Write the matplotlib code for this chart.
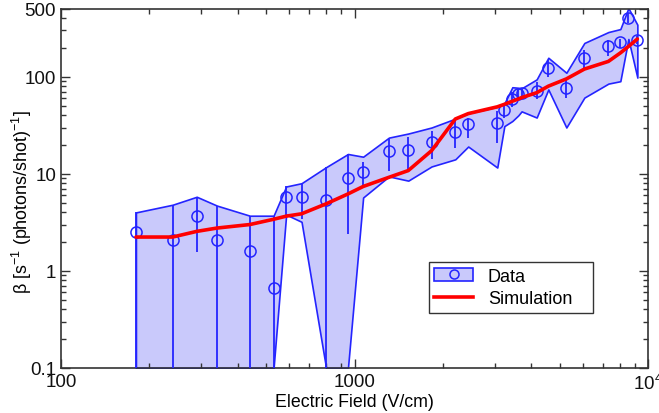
import matplotlib
matplotlib.use('Agg')
import matplotlib.pyplot as plt
from matplotlib.patches import Patch
from matplotlib.lines import Line2D
from matplotlib.ticker import FixedLocator, FixedFormatter, LogLocator, NullFormatter

plt.rcParams.update({
    'font.family': ['Liberation Sans', 'DejaVu Sans'],
    'mathtext.default': 'regular',
    'font.size': 12,
})

# electric field (V/cm)
field = [180, 240, 290, 340, 440, 530, 585, 660, 800, 950, 1070, 1310, 1525,
         1830, 2205, 2440, 3065, 3240, 3450, 3615, 3710, 4175, 4575, 5270,
         6070, 7330, 8050, 8575, 9200]
# measured beta and its band / error bar limits
beta = [2.5, 2.1, 3.7, 2.1, 1.6, 0.67, 5.7, 5.7, 5.4, 9.0, 10.5, 17.0, 17.5,
        21.5, 27, 32.4, 33, 45, 58.5, 66, 67.5, 72, 124, 77,
        157, 206, 226, 403, 241]
band_hi = [4.0, 4.8, 5.8, 4.7, 3.7, 3.7, 7.4, 8.0, 11.7, 16, 15, 23.6, 26,
           30, 37, 42, 49, 53, 78, 77, 76, 94, 157, 110,
           223, 289, 310, 510, 344]
band_lo = [0.1, 0.1, 0.1, 0.1, 0.1, 0.1, 3.8, 3.2, 0.1, 0.1, 5.7, 9.4, 8.5,
           11.9, 14.1, 19.1, 11.6, 31, 35, 40, 44, 38, 74, 30,
           61, 85, 90, 245, 98]
bar_hi = [4.0, 4.8, 5.8, 4.7, 3.7, 3.7, 7.4, 8.0, 11.7, 16, 13.3, 22.7, 24.2,
          27.7, 36.6, 38, 44.4, 54, 70, 76, 76, 87.6, 150, 95.5,
          190, 241, 246, 450, 265]
bar_lo = [0.1, 0.1, 1.55, 0.1, 0.1, 0.1, 3.8, 3.4, 0.1, 2.4, 7.5, 10.8, 10.4,
          14.1, 18.3, 23.6, 21, 38, 49, 58, 60, 58.5, 100, 61,
          118, 164, 199, 360, 220]
# simulation
sim = [2.23, 2.23, 2.55, 2.76, 3.0, 3.4, 3.66, 3.87, 4.9, 6.2, 7.4, 9.2, 10.8,
       17.3, 36.7, 41.7, 49, 52, 56, 59, 61, 68.5, 80, 95,
       120, 144, 176, 205, 245]

BLUE = '#2424ff'
FILL = '#c9c9fb'
RED = '#ff0000'
DARK = '#333333'

fig = plt.figure(figsize=(6.59, 4.14), dpi=100)
ax = fig.add_axes([0.0926, 0.109, 0.8907, 0.867])

ax.fill_between(field, band_lo, band_hi, facecolor=FILL, edgecolor=BLUE,
                linewidth=1.2, zorder=1)
yerr = [[b - l for b, l in zip(beta, bar_lo)], [h - b for b, h in zip(beta, bar_hi)]]
ax.errorbar(field, beta, yerr=yerr, fmt='o', mfc='none', mec=BLUE, ms=8,
            mew=1.1, ecolor=BLUE, elinewidth=1.3, capsize=0, zorder=3)
ax.plot(field, sim, color=RED, lw=2.6, zorder=4, solid_capstyle='round')

ax.set_xscale('log')
ax.set_yscale('log')
ax.set_xlim(100, 1e4)
ax.set_ylim(0.1, 500)

ax.xaxis.set_major_locator(FixedLocator([100, 1000, 1e4]))
ax.xaxis.set_major_formatter(FixedFormatter(['100', '1000', '$10^4$']))
ax.yaxis.set_major_locator(FixedLocator([0.1, 1, 10, 100, 500]))
ax.yaxis.set_major_formatter(FixedFormatter(['0.1', '1', '10', '100', '500']))
ax.xaxis.set_minor_locator(LogLocator(base=10, subs=range(2, 10)))
ax.yaxis.set_minor_locator(LogLocator(base=10, subs=range(2, 10)))
ax.xaxis.set_minor_formatter(NullFormatter())
ax.yaxis.set_minor_formatter(NullFormatter())

ax.tick_params(which='both', direction='in', top=True, right=True,
               color=DARK, width=1.0, labelsize=13.5, labelcolor='#111111')
ax.tick_params(which='major', length=6.5, pad=3.5)
ax.tick_params(which='minor', length=3.5)
for s in ax.spines.values():
    s.set_color(DARK)
    s.set_linewidth(1.2)

ax.set_xlabel('Electric Field (V/cm)', fontsize=12.8, labelpad=0)
ax.set_ylabel('β [s$^{-1}$ (photons/shot)$^{-1}$]', fontsize=12.9)
ax.yaxis.set_label_coords(-0.046, 0.466)

h_data = (Patch(facecolor=FILL, edgecolor=BLUE, linewidth=1.2),
          Line2D([], [], marker='o', ls='none', mfc='none', mec=BLUE, ms=6.5, mew=1.1))
h_sim = Line2D([], [], color=RED, lw=2.6)
leg = ax.legend([h_data, h_sim], ['Data', 'Simulation'], loc='upper left',
                bbox_to_anchor=(0.627, 0.164, 0.279, 0.130), mode='expand',
                borderaxespad=0, fancybox=False,
                framealpha=1, edgecolor=DARK, fontsize=13, handlelength=2.15,
                handletextpad=0.8, borderpad=0.3, labelspacing=0.3)
leg.get_frame().set_linewidth(1.0)

fig.savefig('out.png', dpi=100)
